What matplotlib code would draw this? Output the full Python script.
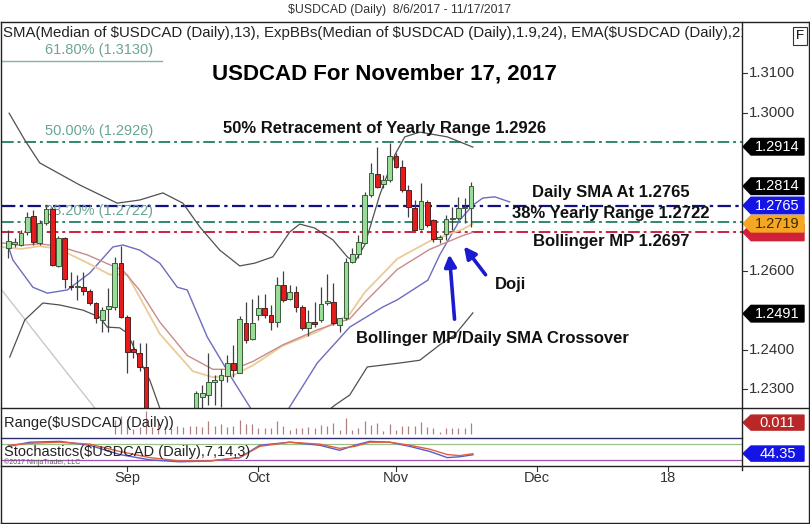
import matplotlib
matplotlib.use("Agg")
import matplotlib.pyplot as plt
from matplotlib.patches import Polygon
from matplotlib.lines import Line2D
import numpy as np

plt.rcParams['font.family'] = ['Liberation Sans', 'DejaVu Sans']

# ---------------- data ----------------
opens = [1.2657, 1.2667, 1.2665, 1.2699, 1.2738, 1.2669, 1.2720, 1.2755, 1.2612, 1.2682,
         1.2561, 1.2559, 1.2558, 1.2548, 1.2517, 1.2475, 1.2502, 1.2509, 1.2619, 1.2483,
         1.2402, 1.2392, 1.2355, 1.2210, 1.2180, 1.2135, 1.2185, 1.2170, 1.2200, 1.2180,
         1.2240, 1.2281, 1.2285, 1.2319, 1.2322, 1.2333, 1.2365, 1.2341, 1.2468, 1.2426,
         1.2488, 1.2505, 1.2488, 1.2471, 1.2564, 1.2527, 1.2547, 1.2509, 1.2454, 1.2470,
         1.2475, 1.2518, 1.2521, 1.2462, 1.2479, 1.2623, 1.2642, 1.2671, 1.2792, 1.2845,
         1.2819, 1.2830, 1.2890, 1.2863, 1.2804, 1.2760, 1.2705, 1.2775, 1.2728, 1.2681,
         1.2694, 1.2732, 1.2733, 1.2758, 1.2758]
highs = [1.2703, 1.2682, 1.2703, 1.2749, 1.2754, 1.2728, 1.2764, 1.2762, 1.2688, 1.2686,
         1.2597, 1.2589, 1.2597, 1.2553, 1.2521, 1.2509, 1.2555, 1.2635, 1.2662, 1.2488,
         1.2424, 1.2416, 1.2416, 1.2230, 1.2195, 1.2200, 1.2215, 1.2225, 1.2230, 1.2240,
         1.2295, 1.2310, 1.2391, 1.2335, 1.2352, 1.2386, 1.2411, 1.2485, 1.2521, 1.2527,
         1.2538, 1.2541, 1.2513, 1.2585, 1.2600, 1.2564, 1.2561, 1.2513, 1.2500, 1.2521,
         1.2558, 1.2591, 1.2568, 1.2480, 1.2631, 1.2657, 1.2690, 1.2800, 1.2873, 1.2914,
         1.2842, 1.2923, 1.2897, 1.2880, 1.2817, 1.2779, 1.2821, 1.2779, 1.2730, 1.2690,
         1.2741, 1.2762, 1.2787, 1.2784, 1.2825]
lows = [1.2631, 1.2661, 1.2662, 1.2690, 1.2665, 1.2665, 1.2716, 1.2612, 1.2608, 1.2555,
        1.2551, 1.2526, 1.2538, 1.2513, 1.2467, 1.2445, 1.2445, 1.2500, 1.2479, 1.2340,
        1.2378, 1.2346, 1.2190, 1.2160, 1.2061, 1.2120, 1.2150, 1.2140, 1.2160, 1.2160,
        1.2220, 1.2240, 1.2260, 1.2260, 1.2255, 1.2319, 1.2331, 1.2340, 1.2416, 1.2424,
        1.2475, 1.2480, 1.2450, 1.2458, 1.2521, 1.2525, 1.2496, 1.2450, 1.2434, 1.2458,
        1.2471, 1.2513, 1.2462, 1.2445, 1.2475, 1.2619, 1.2633, 1.2669, 1.2787, 1.2809,
        1.2809, 1.2825, 1.2859, 1.2800, 1.2737, 1.2703, 1.2703, 1.2711, 1.2673, 1.2669,
        1.2677, 1.2703, 1.2728, 1.2721, 1.2711]
closes = [1.2676, 1.2673, 1.2695, 1.2737, 1.2673, 1.2720, 1.2755, 1.2614, 1.2682, 1.2580,
          1.2558, 1.2560, 1.2549, 1.2517, 1.2479, 1.2500, 1.2510, 1.2619, 1.2483, 1.2394,
          1.2395, 1.2355, 1.2210, 1.2180, 1.2130, 1.2185, 1.2170, 1.2200, 1.2180, 1.2230,
          1.2289, 1.2290, 1.2319, 1.2322, 1.2335, 1.2367, 1.2348, 1.2477, 1.2424, 1.2468,
          1.2505, 1.2488, 1.2471, 1.2564, 1.2526, 1.2547, 1.2509, 1.2454, 1.2471, 1.2465,
          1.2515, 1.2523, 1.2467, 1.2479, 1.2623, 1.2642, 1.2673, 1.2792, 1.2847, 1.2811,
          1.2830, 1.2890, 1.2863, 1.2804, 1.2762, 1.2703, 1.2777, 1.2716, 1.2679, 1.2684,
          1.2732, 1.2734, 1.2760, 1.2762, 1.2814]

# indicator lines (bar index, price)
bb_upper_x = [0.1, 2.6, 5.0, 11.4, 17.4, 21.0, 24.7, 27.9, 30.6, 33.8, 37.0, 39.4, 42.3, 45.0,
              46.6, 49.0, 51.9, 54.2, 55.4, 57.0, 59.4, 61.8, 63.4, 65.8, 70.2, 74.3]
bb_upper_y = [1.2999, 1.2931, 1.2873, 1.2817, 1.2771, 1.2779, 1.2797, 1.2771, 1.2711, 1.2652,
              1.2612, 1.2619, 1.2635, 1.2698, 1.2718, 1.2708, 1.2678, 1.2635, 1.2622, 1.2665,
              1.2792, 1.2893, 1.2939, 1.2951, 1.2939, 1.2913]
bb_lower_x = [0.2, 2.6, 5.5, 8.2, 11.9, 14.6, 15.8, 17.8, 19.0, 21.0, 22.6, 24.2, 27.4, 32.0,
              38.0, 45.0, 50.0, 52.2, 54.6, 57.4, 62.6, 65.8, 69.0, 71.4, 74.3]
bb_lower_y = [1.2381, 1.2475, 1.2518, 1.2513, 1.2500, 1.2482, 1.2457, 1.2455, 1.2442, 1.2373,
              1.2323, 1.2252, 1.2150, 1.2080, 1.2100, 1.2180, 1.2230, 1.2259, 1.2285, 1.2356,
              1.2366, 1.2373, 1.2412, 1.2437, 1.2493]
sma_x = [-0.2, 0.7, 3.9, 6.2, 9.4, 13.0, 16.7, 18.3, 21.0, 24.2, 27.0, 28.6, 31.8, 35.9, 38.2,
         40.0, 43.0, 45.0, 49.4, 54.6, 59.9, 62.2, 67.1, 69.0, 72.2, 74.3, 75.9, 77.8, 80.2]
sma_y = [1.2670, 1.2627, 1.2558, 1.2543, 1.2551, 1.2594, 1.2660, 1.2665, 1.2652, 1.2619, 1.2558,
         1.2551, 1.2432, 1.2323, 1.2265, 1.2220, 1.2200, 1.2255, 1.2366, 1.2457, 1.2508, 1.2526,
         1.2576, 1.2640, 1.2728, 1.2766, 1.2784, 1.2787, 1.2774]
bb_mid_x = [-1.0, 2.0, 5.0, 8.0, 12.6, 16.2, 18.3, 21.0, 24.2, 28.6, 32.7, 36.0, 39.1, 43.9,
            49.4, 54.6, 57.0, 62.2, 67.4, 72.7, 74.3]
bb_mid_y = [1.2670, 1.2664, 1.2668, 1.2662, 1.2640, 1.2615, 1.2601, 1.2550, 1.2470, 1.2385,
            1.2350, 1.2350, 1.2370, 1.2412, 1.2450, 1.2478, 1.2520, 1.2603, 1.2654, 1.2689,
            1.2697]
ema_x = [-1.0, 2.0, 5.0, 8.0, 12.6, 16.2, 19.0, 24.2, 29.5, 32.7, 36.0, 39.1, 43.9, 49.4,
         54.6, 57.0, 62.2, 67.4, 72.7, 74.3]
ema_y = [1.2660, 1.2655, 1.2662, 1.2655, 1.2620, 1.2590, 1.2590, 1.2440, 1.2345, 1.2330,
         1.2335, 1.2360, 1.2410, 1.2445, 1.2490, 1.2545, 1.2630, 1.2675, 1.2705, 1.2719]

fib_levels = [1.3130, 1.2926, 1.2722]
fib_labels = ['61.80% (1.3130)', '50.00% (1.2926)', '38.20% (1.2722)']
sma_level = 1.2765
bbmid_level = 1.2697

# stochastics (bar index, value)
stoch_x = [0.0, 3.4, 8.2, 13.0, 17.8, 22.6, 27.4, 32.2, 37.0, 40.2, 45.0, 49.8, 53.0, 55.4,
           57.8, 61.0, 64.2, 67.4, 70.2, 72.2, 74.3]
stoch_k = [70, 85, 88, 74, 41, 22, 15, 18, 30, 74, 85, 74, 56, 74, 88, 85, 70, 52, 30, 33, 40]
stoch_d = [74, 81, 85, 78, 52, 30, 18, 18, 30, 70, 85, 78, 63, 70, 85, 85, 74, 60, 41, 37, 44]

y_ticks = [1.2300, 1.2400, 1.2600, 1.3000, 1.3100]
month_ticks = [19, 40, 62, 84.5, 105.5]
month_labels = ['Sep', 'Oct', 'Nov', 'Dec', '18']

tags = [(1.2914, 'black', 'white', '1.2914'),
        (1.2814, 'black', 'white', '1.2814'),
        (1.2697, '#D0203A', 'white', ''),
        (1.2765, '#1414E6', 'white', '1.2765'),
        (1.2719, '#F5A623', '#3A2A00', '1.2719'),
        (1.2491, 'black', 'white', '1.2491')]

# ---------------- figure ----------------
W, H = 810, 524
fig = plt.figure(figsize=(W / 100, H / 100), dpi=100)
fig.patch.set_facecolor('white')


def px_axes(x0, y0, x1, y1):
    return fig.add_axes([x0 / W, 1 - y1 / H, (x1 - x0) / W, (y1 - y0) / H])


XMIN, XMAX = -1.04, 117.36
YMIN, YMAX = 1.2252, 1.3230

ax = px_axes(2, 22, 742, 408)
ax.set_xlim(XMIN, XMAX)
ax.set_ylim(YMIN, YMAX)
ax.axis('off')

idx = np.arange(len(opens))
o = np.array(opens); h = np.array(highs); l = np.array(lows); c = np.array(closes)
up = c >= o

# fib / level lines
ax.plot([XMIN, 24.5], [fib_levels[0]] * 2, color='#7FB5A5', lw=1.0)
for lv in fib_levels[1:]:
    ax.axhline(lv, color='#2F8A66', lw=1.4, dashes=(6, 2, 1.5, 2))
ax.axhline(sma_level, color='#101080', lw=1.6, dashes=(6, 2, 1.5, 2))
ax.axhline(bbmid_level, color='#D0203A', lw=1.4, dashes=(6, 2, 1.5, 2))
for lv, lab in zip(fib_levels, fib_labels):
    ax.text(5.85, lv + 0.0029, lab, color='#6AA595', fontsize=10.5, va='center', ha='left')

# light diagonal
ax.plot([-1.04, 13.8], [1.2550, 1.2252], color='#C8C8C8', lw=1.0)

# indicator lines
ax.plot(bb_upper_x, bb_upper_y, color='#505050', lw=0.9)
ax.plot(bb_lower_x, bb_lower_y, color='#505050', lw=0.9)
ax.plot(sma_x, sma_y, color='#6C6CC0', lw=1.0)
ax.plot(ema_x, ema_y, color='#EBCB98', lw=1.3)
ax.plot(bb_mid_x, bb_mid_y, color='#C98A8A', lw=1.0)

# candles
ax.vlines(idx, l, h, color='#404040', lw=0.9, zorder=3)
body_b = np.minimum(o, c)
body_h = np.maximum(np.abs(c - o), 0.00015)
ax.bar(idx[up], body_h[up], bottom=body_b[up], width=0.74, color='#98DC98',
       edgecolor='#3C5A3C', linewidth=0.7, zorder=4)
ax.bar(idx[~up], body_h[~up], bottom=body_b[~up], width=0.74, color='#E41C1C',
       edgecolor='#502020', linewidth=0.7, zorder=4)

# annotations
bold = dict(fontweight='bold', color='#111111')
ax.text(60.2, 1.3098, 'USDCAD For November 17, 2017', fontsize=16, ha='center', va='center',
        fontweight='heavy', color='black')
ax.text(60.2, 1.2961, '50% Retracement of Yearly Range 1.2926', fontsize=12, ha='center',
        va='center', **bold)
ax.text(96.4, 1.2797, 'Daily SMA At 1.2765', fontsize=12, ha='center', va='center', **bold)
ax.text(96.4, 1.2746, '38% Yearly Range 1.2722', fontsize=12, ha='center', va='center', **bold)
ax.text(96.4, 1.2673, 'Bollinger MP 1.2697', fontsize=12, ha='center', va='center', **bold)
ax.text(80.4, 1.2566, 'Doji', fontsize=12, ha='center', va='center', **bold)
ax.text(77.4, 1.2427, 'Bollinger MP/Daily SMA Crossover', fontsize=12, ha='center',
        va='center', **bold)
arrow = dict(arrowstyle='-|>,head_length=0.7,head_width=0.35', color='#1A1AD0', lw=2.6)
ax.annotate('', xy=(70.5, 1.2648), xytext=(71.4, 1.2470), arrowprops=arrow, zorder=6)
ax.annotate('', xy=(72.6, 1.2667), xytext=(76.6, 1.2584), arrowprops=arrow, zorder=6)

# header text
ax.text(-0.85, 1.3202, 'SMA(Median of $USDCAD (Daily),13), ExpBBs(Median of $USDCAD (Daily),1.9,24), '
        'EMA($USDCAD (Daily),21)', fontsize=10.8, color='#222222', ha='left', va='center',
        clip_on=True)

# right price axis
axr = px_axes(742, 22, 808, 408)
axr.set_xlim(0, 66)
axr.set_ylim(YMIN, YMAX)
axr.axis('off')
for t in y_ticks:
    axr.plot([0, 5], [t, t], color='#333333', lw=0.8)
    axr.text(7, t, f'{t:.4f}', fontsize=10.8, color='#333333', va='center', ha='left')
th = 0.0021
for val, fc, tc, lab in tags:
    poly = Polygon([[1, val], [9, val + th], [62, val + th], [62, val - th], [9, val - th]],
                   closed=True, facecolor=fc, edgecolor=fc, zorder=5)
    axr.add_patch(poly)
    if lab:
        axr.text(35.5, val, lab, color=tc, fontsize=10.5, ha='center', va='center', zorder=6)
axr.text(58, 1.3195, 'F', fontsize=9.5, ha='center', va='center',
         bbox=dict(boxstyle='square,pad=0.25', fc='white', ec='#333333', lw=0.8))

# range panel
axg = px_axes(2, 408, 742, 438)
axg.set_xlim(XMIN, XMAX)
axg.set_ylim(-0.0040, 0.0260)
axg.axis('off')
rng = h - l
axg.vlines(idx[17:], 0, rng[17:], color='#B08080', lw=0.9)
axg.text(-0.7, 0.0115, 'Range($USDCAD (Daily))', fontsize=10.5, color='#222222', va='center',
         ha='left')
axgr = px_axes(742, 408, 808, 438)
axgr.set_xlim(0, 66); axgr.set_ylim(-0.0040, 0.0260); axgr.axis('off')
poly = Polygon([[1, 0.0114], [9, 0.0114 + 0.0075], [62, 0.0114 + 0.0075], [62, 0.0114 - 0.0075],
                [9, 0.0114 - 0.0075]], closed=True, facecolor='#B82828', edgecolor='#B82828')
axgr.add_patch(poly)
axgr.text(35.5, 0.0114, '0.011', color='white', fontsize=10.5, ha='center', va='center')

# stochastics panel
axs = px_axes(2, 438, 742, 466)
axs.set_xlim(XMIN, XMAX)
axs.set_ylim(0, 100)
axs.axis('off')
axs.axhline(80, color='#9CC28A', lw=0.9)
axs.axhline(20, color='#A050B0', lw=0.9)
axs.plot(stoch_x, stoch_k, color='#5A5AD0', lw=1.0)
axs.plot(stoch_x, stoch_d, color='#E06040', lw=1.0)
axs.text(-0.7, 50, 'Stochastics($USDCAD (Daily),7,14,3)', fontsize=10.5, color='#222222',
         va='center', ha='left')
axs.text(-0.7, 14, '\u00a92017 NinjaTrader, LLC', fontsize=5, color='#555555', va='center',
         ha='left')
axsr = px_axes(742, 438, 808, 466)
axsr.set_xlim(0, 66); axsr.set_ylim(0, 100); axsr.axis('off')
poly = Polygon([[1, 44.35], [9, 44.35 + 27], [62, 44.35 + 27], [62, 44.35 - 27], [9, 44.35 - 27]],
               closed=True, facecolor='#1414E6', edgecolor='#1414E6')
axsr.add_patch(poly)
axsr.text(35.5, 44.35, '44.35', color='white', fontsize=10.5, ha='center', va='center')

# x axis labels
axx = px_axes(2, 466, 742, 490)
axx.set_xlim(XMIN, XMAX)
axx.set_ylim(0, 1)
axx.axis('off')
for t, lab in zip(month_ticks, month_labels):
    axx.plot([t, t], [1, 0.8], color='#333333', lw=0.8)
    axx.text(t, 0.5, lab, fontsize=10.5, color='#333333', ha='center', va='center')

# title
fig.text(400 / W, 1 - 10 / H, '$USDCAD (Daily)  8/6/2017 - 11/17/2017', fontsize=8.8,
         color='#333333', ha='center', va='center')


# frame lines (figure pixel coordinates)
def hline(y, x0, x1, color='#222222', lw=1.0):
    fig.add_artist(Line2D([x0 / W, x1 / W], [1 - y / H, 1 - y / H], color=color, lw=lw))


def vline(x, y0, y1, color='#222222', lw=1.0):
    fig.add_artist(Line2D([x / W, x / W], [1 - y0 / H, 1 - y1 / H], color=color, lw=lw))


hline(21.5, 0.5, 809, lw=1.0)
hline(408, 0.5, 809, lw=1.0)
hline(438, 0.5, 742, color='#303070', lw=1.0)
hline(466, 0.5, 809, lw=1.0)
hline(522.5, 0.5, 809, lw=1.0)
vline(1, 21.5, 522.5)
vline(808.5, 21.5, 522.5)
vline(742, 21.5, 470)

fig.savefig('out.png', dpi=100)
